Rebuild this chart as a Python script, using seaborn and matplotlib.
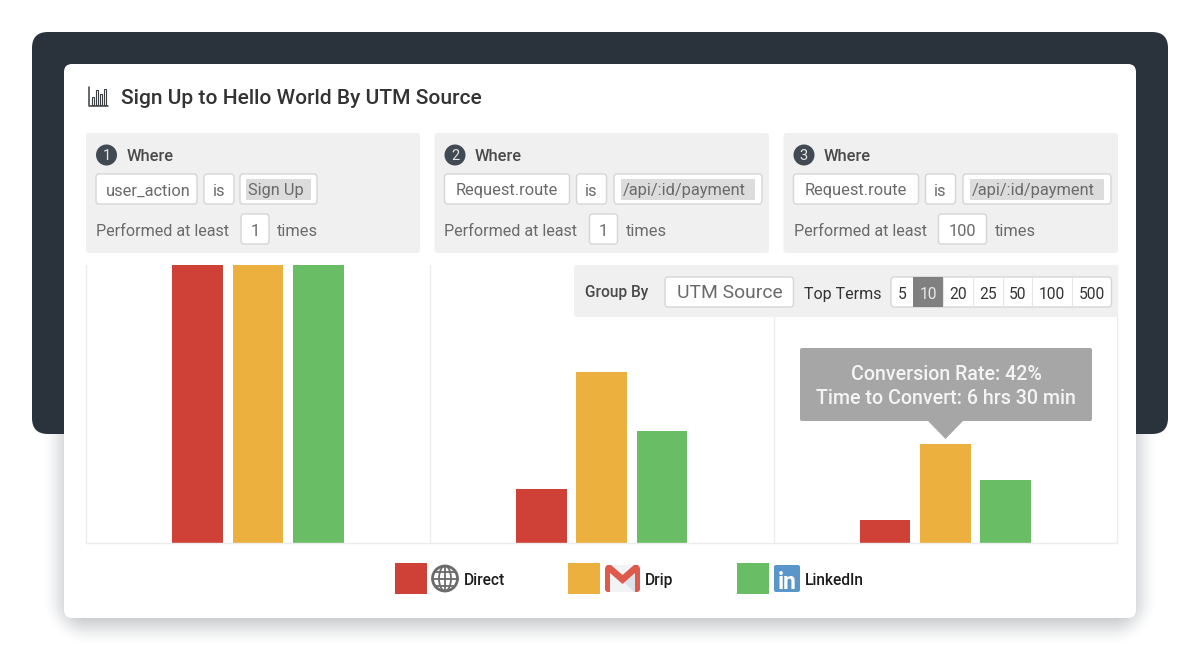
# -*- coding: utf-8 -*-

import numpy as np
import pandas as pd
import seaborn as sns
import matplotlib.pyplot as plt
from matplotlib.patches import FancyBboxPatch, Rectangle, Circle, Ellipse, Polygon

# bar heights, % of the first step
steps = ['Step 1', 'Step 2', 'Step 3']
sources = ['Direct', 'Drip', 'LinkedIn']
direct = [100, 19.5, 8.2]
drip = [100, 61.5, 35.7]
linkedin = [100, 40.2, 22.8]
colors = ['#cf4037', '#ecb03e', '#69bd65']

filter_fields = ['user_action', 'Request.route', 'Request.route']
filter_values = ['Sign Up', '/api/:id/payment', '/api/:id/payment']
min_times = ['1', '1', '100']
top_terms = ['5', '10', '20', '25', '50', '100', '500']

TXT = '#6a6a6a'
DARK = '#3c4043'
PANEL = '#f0f0f0'
LINE = '#d6d6d6'

sns.set_theme(style='white')
plt.rcParams['font.family'] = ['Roboto', 'DejaVu Sans']
plt.rcParams['patch.linewidth'] = 0

fig = plt.figure(figsize=(12, 6.5), dpi=100, facecolor='white')


def pixel_axes(z):
    a = fig.add_axes([0, 0, 1, 1], zorder=z)
    a.set_xlim(0, 1200)
    a.set_ylim(650, 0)
    a.axis('off')
    a.patch.set_alpha(0)
    return a


def box(a, x0, y0, x1, y1, fc='white', ec='none', r=3, lw=1, alpha=None, z=2):
    p = FancyBboxPatch((x0 + r, y0 + r), x1 - x0 - 2 * r, y1 - y0 - 2 * r,
                       boxstyle='round,pad=%s,rounding_size=%s' % (r, r),
                       fc=fc, ec=ec, lw=lw, alpha=alpha, zorder=z)
    a.add_patch(p)


def label(a, x, y, s, size=11.8, color=TXT, ha='left', weight='normal', z=5):
    a.text(x, y, s, fontsize=size, color=color, ha=ha, va='center_baseline',
           fontweight=weight, zorder=z)


bg = pixel_axes(0)

# card shadow as a soft ramp around a rounded rectangle
gx, gy = np.meshgrid(np.arange(1200) + 0.5, np.arange(650) + 0.5)
rad = 26
dx = np.maximum(np.maximum(62 + rad - gx, gx - 1138 + rad), 0)
dy = np.maximum(np.maximum(100 + rad - gy, gy - 626 + rad), 0)
dist = np.hypot(dx, dy) - rad
ramp = np.clip((20 - dist) / 40, 0, 1)
shadow = np.zeros((650, 1200, 4))
shadow[..., :3] = np.array([0x3a, 0x46, 0x50]) / 255
shadow[..., 3] = 0.34 * ramp * ramp * (3 - 2 * ramp)
bg.imshow(shadow, extent=(0, 1200, 650, 0), aspect='auto', zorder=0.5, interpolation='nearest')
bg.set_xlim(0, 1200)
bg.set_ylim(650, 0)

# dark backdrop + card
box(bg, 32, 32, 1168, 434, fc='#2a323b', r=16, z=1)
box(bg, 64, 64, 1136, 618, r=8, z=2)

# title + little bar chart icon
bg.plot([89, 89, 108], [87, 106, 106], color=DARK, lw=1.1, zorder=4)
for x, top in zip([92.5, 96.5, 100.5, 104.5], [97, 90, 94, 89]):
    bg.add_patch(Rectangle((x - 1, top), 2.4, 104.5 - top, fc='white', ec=DARK, lw=0.8, zorder=4))
label(bg, 121, 97, 'Sign Up to Hello World By UTM Source', size=15.15, color='#333333', weight='medium')

# the three filter cards
offsets = [86, 434.5, 783.5]
panel_right = [420, 769, 1118]
field_w = [101, 125, 125]
value_w = [77, 148, 148]
value_pad = [6, 7, 7]
for n in range(3):
    x = offsets[n]
    box(bg, x, 133, panel_right[n], 253, fc=PANEL)
    bg.add_patch(Circle((x + 20.5, 155), 10.5, fc='#414a52', zorder=4))
    label(bg, x + 20.5, 155, str(n + 1), size=10.5, color='#e6e6e6', ha='center')
    label(bg, x + 40.6, 155, 'Where', size=11.9, color='#4a4a4a', weight='medium')

    x1 = x + 10 + field_w[n]
    box(bg, x + 10, 174, x1, 204, ec=LINE)
    label(bg, (x + 10 + x1) / 2 + 2 if n == 0 else (x + 10 + x1) / 2, 189.5, filter_fields[n], ha='center')
    box(bg, x1 + 7, 174, x1 + 37, 204, ec=LINE)
    label(bg, x1 + 22, 189.5, 'is', ha='center')
    v0 = x1 + 44.5 if n else x1 + 43
    box(bg, v0, 174, v0 + value_w[n], 204, ec=LINE)
    box(bg, v0 + value_pad[n], 179, v0 + value_w[n] - value_pad[n], 200, fc='#dcdcdc', r=1, z=3)
    label(bg, v0 + value_pad[n] + 2, 189.5, filter_values[n])

    label(bg, x + 10, 229.5, 'Performed at least', size=11.65)
    bx = x + 155
    bw = 28 if n < 2 else 48
    box(bg, bx, 214, bx + bw, 244, ec=LINE)
    label(bg, bx + bw / 2, 229.5, min_times[n], ha='center')
    label(bg, bx + bw + 8, 229.5, 'times')

# bars
ax = fig.add_axes([86.2 / 1200, 1 - 543 / 650, 1031 / 1200, 278 / 650], zorder=1)
df = pd.DataFrame({'step': steps * 3,
                   'source': [s for s in sources for _ in steps],
                   'value': direct + drip + linkedin})
sns.barplot(data=df, x='step', y='value', hue='source', palette=colors, ax=ax,
            width=0.526, gap=0.16, legend=False, saturation=1)
ax.set_xlim(-0.5, 2.5)
ax.set_ylim(0, 100)
ax.set(xlabel='', ylabel='', xticks=[], yticks=[])
ax.patch.set_alpha(0)
for pos in [0.5, 1.5]:
    ax.axvline(pos, color='#ececec', lw=1)
sns.despine(ax=ax, top=True, right=False, left=False, bottom=False)
for s in ['left', 'right', 'bottom']:
    ax.spines[s].set_color('#ececec')
    ax.spines[s].set_linewidth(1)

top = pixel_axes(2)

# group by strip
box(top, 574, 265, 1118, 317, fc=PANEL)
label(top, 585, 290.5, 'Group By', size=11.2, color='#4a4a4a', weight='medium')
box(top, 665, 277, 793.5, 307, ec=LINE)
label(top, 729.5, 291.5, 'UTM Source', size=13.85, ha='center')
label(top, 804, 292.5, 'Top Terms', size=11.5, color='#333333')
edges = [891, 913, 943, 973, 1003, 1032, 1072, 1111.5]
box(top, 891, 277, 1111.5, 307, ec=LINE)
for i, t in enumerate(top_terms):
    if i == 1:
        top.add_patch(Rectangle((edges[1], 277), edges[2] - edges[1], 30, fc='#808080', zorder=3))
    elif i > 1:
        top.plot([edges[i]] * 2, [278, 306], color='#e6e6e6', lw=0.8, zorder=3)
    label(top, (edges[i] + edges[i + 1]) / 2, 293, t, size=11.2,
          color='#e8e8e8' if i == 1 else '#333333', ha='center')

# tooltip
box(top, 800, 348, 1092, 421, fc='#a6a6a6', r=2)
top.add_patch(Polygon([[928, 419], [963, 419], [963, 421], [945.5, 439], [928, 421]], fc='#a6a6a6', zorder=2))
label(top, 946, 372.5, 'Conversion Rate: 42%', size=14.1, color='#f4f4f4', ha='center', weight='medium')
label(top, 946, 396.5, 'Time to Convert: 6 hrs 30 min', size=14.1, color='#f4f4f4', ha='center', weight='medium')

# legend, swatches and logos
swatch_x = [395, 568, 737]
text_x = [464, 645, 805]
for x, c, s, tx in zip(swatch_x, colors, sources, text_x):
    top.add_patch(Rectangle((x, 563), 32, 31, fc=c, zorder=3))
    label(top, tx, 579, s, size=11.2, color='#1c1c1c', weight='medium')

# globe
gc = '#6b6b6b'
top.add_patch(Circle((445, 578.5), 12.5, fc='none', ec=gc, lw=2, zorder=4))
top.add_patch(Ellipse((445, 578.5), 12, 25, fc='none', ec=gc, lw=1.3, zorder=4))
top.plot([445, 445], [566.5, 590.5], color=gc, lw=1.3, zorder=4)
for yy, half in [(571.5, 10), (578.5, 12.5), (585.5, 10)]:
    top.plot([445 - half, 445 + half], [yy, yy], color=gc, lw=1.3, zorder=4)

# gmail
box(top, 605, 565, 640, 592, fc='#f1f3f5', r=2, z=3)
top.add_patch(Polygon([[622, 580], [635, 572], [635, 592], [634, 592]], fc='#dbe3e8', zorder=3.5))
top.add_patch(Polygon([[605, 568], [607, 565], [611, 565], [622.5, 575], [634, 565], [638, 565],
                       [640, 568], [640, 590], [638, 592], [635, 592], [635, 573], [622.5, 584],
                       [610, 573], [610, 592], [607, 592], [605, 590]],
                      fc='#dd5b4c', zorder=4))

# linkedin
box(top, 774, 565, 800, 592, fc='#5b96cb', r=2, z=3)
top.text(787, 580, 'in', fontsize=16.5, color='white', fontweight='bold', ha='center',
         va='center_baseline', zorder=4)

plt.savefig('out.png', dpi=100, facecolor='white')
